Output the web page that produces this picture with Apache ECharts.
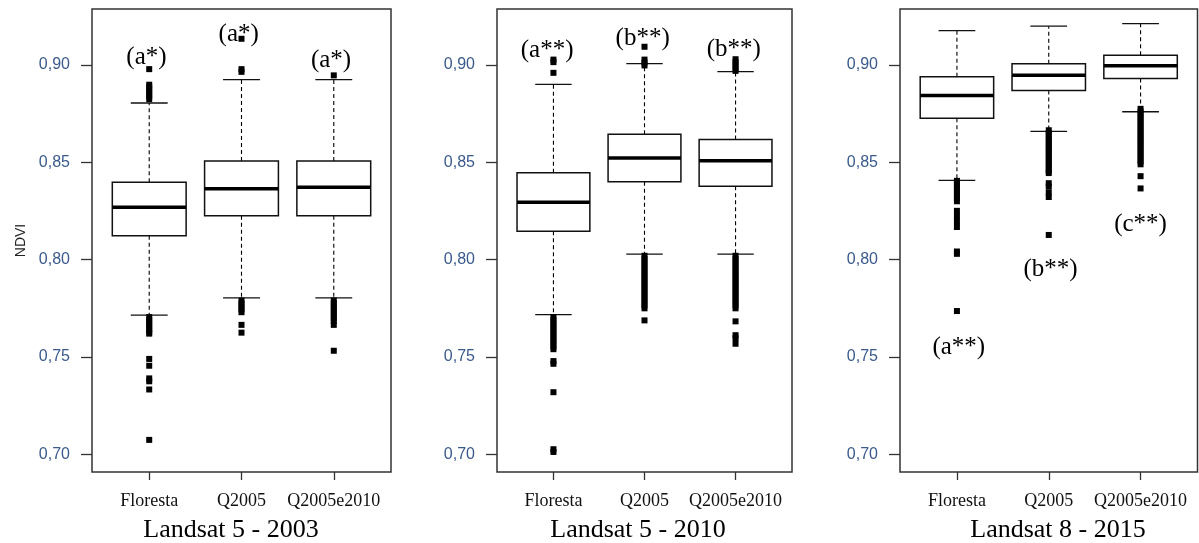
<!DOCTYPE html>
<html>
<head>
<meta charset="utf-8">
<script src="https://cdn.jsdelivr.net/npm/echarts@6/dist/echarts.min.js"></script>
<style>
  html, body { margin: 0; padding: 0; background: #fff; }
  #main { width: 1199px; height: 543px; }
</style>
</head>
<body>
<div id="main"></div>
<script>
// categories and tick labels
var categories = ['Floresta', 'Q2005', 'Q2005e2010'];
var yTicks = [0.70, 0.75, 0.80, 0.85, 0.90];
var panelTitles = ['Landsat 5 - 2003', 'Landsat 5 - 2010', 'Landsat 8 - 2015'];

// box stats: [lower whisker, Q1, median, Q3, upper whisker]
var box2003 = [
  [0.7715, 0.8123, 0.8269, 0.8398, 0.8805],
  [0.7804, 0.8226, 0.8365, 0.8507, 0.8925],
  [0.7804, 0.8226, 0.8372, 0.8507, 0.8925]
];
var box2010 = [
  [0.7718, 0.8146, 0.8295, 0.8446, 0.8901],
  [0.8029, 0.8400, 0.8523, 0.8645, 0.9007],
  [0.8029, 0.8377, 0.8508, 0.8617, 0.8966]
];
var box2015 = [
  [0.8407, 0.8727, 0.8844, 0.8940, 0.9177],
  [0.8659, 0.8869, 0.8947, 0.9007, 0.9200],
  [0.8760, 0.8931, 0.8996, 0.9050, 0.9213]
];

// outliers per category
var out2003 = [
  [0.8979, 0.8899, 0.8885, 0.887, 0.8855, 0.884, 0.8825, 0.7705, 0.769, 0.7675, 0.766, 0.7645, 0.763, 0.762,
   0.749, 0.7455, 0.739, 0.7375, 0.7333, 0.7074],
  [0.9135, 0.8979, 0.8965, 0.779, 0.7775, 0.776, 0.7745, 0.773, 0.7665, 0.7625],
  [0.8947, 0.779, 0.7775, 0.776, 0.7745, 0.773, 0.7715, 0.770, 0.7685, 0.7665, 0.7532]
];
var out2010 = [
  [0.9028, 0.9015, 0.896, 0.7705, 0.769, 0.7675, 0.766, 0.7645, 0.763, 0.7615, 0.760, 0.7585, 0.757, 0.7555,
   0.754, 0.7479, 0.7465, 0.7319, 0.7026, 0.7012],
  [0.9094, 0.9028, 0.9013, 0.8998, 0.802, 0.8005, 0.799, 0.7975, 0.796, 0.7945, 0.793, 0.7915, 0.790, 0.7885,
   0.787, 0.7855, 0.784, 0.7825, 0.781, 0.7795, 0.778, 0.7765, 0.775, 0.7688],
  [0.903, 0.9015, 0.900, 0.8985, 0.897, 0.802, 0.8005, 0.799, 0.7975, 0.796, 0.7945, 0.793, 0.7915, 0.790,
   0.7885, 0.787, 0.7855, 0.784, 0.7825, 0.781, 0.7795, 0.778, 0.7765, 0.775, 0.7683, 0.7612, 0.7597, 0.7568]
];
var out2015 = [
  [0.8405, 0.839, 0.8375, 0.836, 0.8345, 0.833, 0.8315, 0.830, 0.8251, 0.8224, 0.8198, 0.8168, 0.8042, 0.803,
   0.7736],
  [0.8665, 0.865, 0.8635, 0.862, 0.8605, 0.859, 0.8575, 0.856, 0.8545, 0.853, 0.8515, 0.850, 0.8485, 0.847,
   0.8455, 0.8445, 0.8393, 0.8375, 0.8345, 0.8322, 0.8127],
  [0.8775, 0.876, 0.8745, 0.873, 0.8715, 0.870, 0.8685, 0.867, 0.8655, 0.864, 0.8625, 0.861, 0.8595, 0.858,
   0.8565, 0.855, 0.8535, 0.852, 0.8505, 0.849, 0.8429, 0.8366]
];

// significance letters: [x, y, text]
var ann2003 = [[0.97, 0.904, '(a*)'], [1.97, 0.9156, '(a*)'], [2.97, 0.9023, '(a*)']];
var ann2010 = [[0.93, 0.9076, '(a**)'], [1.98, 0.9138, '(b**)'], [2.98, 0.908, '(b**)']];
var ann2015 = [[1.02, 0.755, '(a**)'], [2.02, 0.795, '(b**)'], [3.0, 0.818, '(c**)']];

var boxes = [box2003, box2010, box2015];
var outs = [out2003, out2010, out2015];
var anns = [ann2003, ann2010, ann2015];

var grids = [
  { left: 92, right: 808, top: 9, bottom: 71 },
  { left: 497, right: 407, top: 9, bottom: 71 },
  { left: 900, right: 1.5, top: 9, bottom: 71 }
];
var titleX = [231, 638, 1058];

function renderBox(params, api) {
  var x = api.value(0);
  var lo = api.coord([x, api.value(1)]);
  var q1 = api.coord([x, api.value(2)]);
  var md = api.coord([x, api.value(3)]);
  var q3 = api.coord([x, api.value(4)]);
  var hi = api.coord([x, api.value(5)]);
  var bw = api.size([0.8, 0])[0];
  var cw = bw / 2;
  var cx = md[0];
  var dash = { stroke: '#000', lineWidth: 1.1, lineDash: [4, 3] };
  var solid = { stroke: '#111', lineWidth: 1.3 };
  return {
    type: 'group',
    children: [
      { type: 'line', shape: { x1: cx, y1: q3[1], x2: cx, y2: hi[1] }, style: dash },
      { type: 'line', shape: { x1: cx, y1: q1[1], x2: cx, y2: lo[1] }, style: dash },
      { type: 'line', shape: { x1: cx - cw / 2, y1: hi[1], x2: cx + cw / 2, y2: hi[1] }, style: solid },
      { type: 'line', shape: { x1: cx - cw / 2, y1: lo[1], x2: cx + cw / 2, y2: lo[1] }, style: solid },
      { type: 'rect', shape: { x: cx - bw / 2, y: q3[1], width: bw, height: q1[1] - q3[1] },
        style: { fill: '#fff', stroke: '#111', lineWidth: 1.5 } },
      { type: 'line', shape: { x1: cx - bw / 2, y1: md[1], x2: cx + bw / 2, y2: md[1] },
        style: { stroke: '#000', lineWidth: 3.5 } }
    ]
  };
}

var xAxes = [], yAxes = [], series = [], graphics = [];
for (var p = 0; p < 3; p++) {
  xAxes.push({
    gridIndex: p, type: 'value', min: 0.38, max: 3.62,
    axisLine: { show: false },
    splitLine: { show: false },
    axisTick: { show: true, customValues: [1, 2, 3], length: 8, lineStyle: { color: '#333', width: 1.3 } },
    axisLabel: {
      customValues: [1, 2, 3], margin: 20,
      fontFamily: 'Liberation Serif', fontSize: 18, color: '#111',
      formatter: function (v) { return categories[Math.round(v) - 1]; }
    }
  });
  yAxes.push({
    gridIndex: p, type: 'value', min: 0.6909, max: 0.9288,
    name: p === 0 ? 'NDVI' : '',
    nameLocation: 'middle', nameGap: 64,
    nameTextStyle: { fontFamily: 'Liberation Sans', fontSize: 14, color: '#222' },
    axisLine: { show: false },
    splitLine: { show: false },
    axisTick: { show: true, customValues: yTicks, length: 11, lineStyle: { color: '#333', width: 1.3 } },
    axisLabel: {
      customValues: yTicks, margin: 22,
      fontFamily: 'Liberation Sans', fontSize: 16, color: '#3a5a8c',
      formatter: function (v) { return v.toFixed(2).replace('.', ','); }
    }
  });
  series.push({
    type: 'custom', xAxisIndex: p, yAxisIndex: p,
    renderItem: renderBox,
    encode: { x: 0, y: [1, 2, 3, 4, 5] },
    data: boxes[p].map(function (s, i) { return [i + 1].concat(s); }),
    silent: true, z: 2
  });
  series.push({
    type: 'scatter', xAxisIndex: p, yAxisIndex: p,
    symbolSize: 1, itemStyle: { color: '#fff', opacity: 1 },
    label: {
      show: true, position: 'inside', opacity: 1,
      fontFamily: 'Liberation Serif', fontSize: 25, color: '#000',
      formatter: function (d) { return d.value[2]; }
    },
    data: anns[p], silent: true, z: 3
  });
  var od = [];
  outs[p].forEach(function (arr, i) {
    arr.forEach(function (v) { od.push([i + 1, v]); });
  });
  series.push({
    type: 'scatter', xAxisIndex: p, yAxisIndex: p,
    symbol: 'rect', symbolSize: 6,
    itemStyle: { color: '#000', opacity: 1 },
    data: od, silent: true, z: 4
  });
  graphics.push({
    type: 'text', x: titleX[p], y: 530,
    style: {
      text: panelTitles[p], font: '26px "Liberation Serif"', fill: '#000',
      textAlign: 'center', textVerticalAlign: 'middle'
    }
  });
}

var chart = echarts.init(document.getElementById('main'));
chart.setOption({
  animation: false,
  backgroundColor: '#fff',
  grid: grids.map(function (g) {
    return Object.assign({ show: true, borderColor: '#333', borderWidth: 1.5, backgroundColor: 'transparent' }, g);
  }),
  xAxis: xAxes,
  yAxis: yAxes,
  series: series,
  graphic: graphics
});
</script>
</body>
</html>
